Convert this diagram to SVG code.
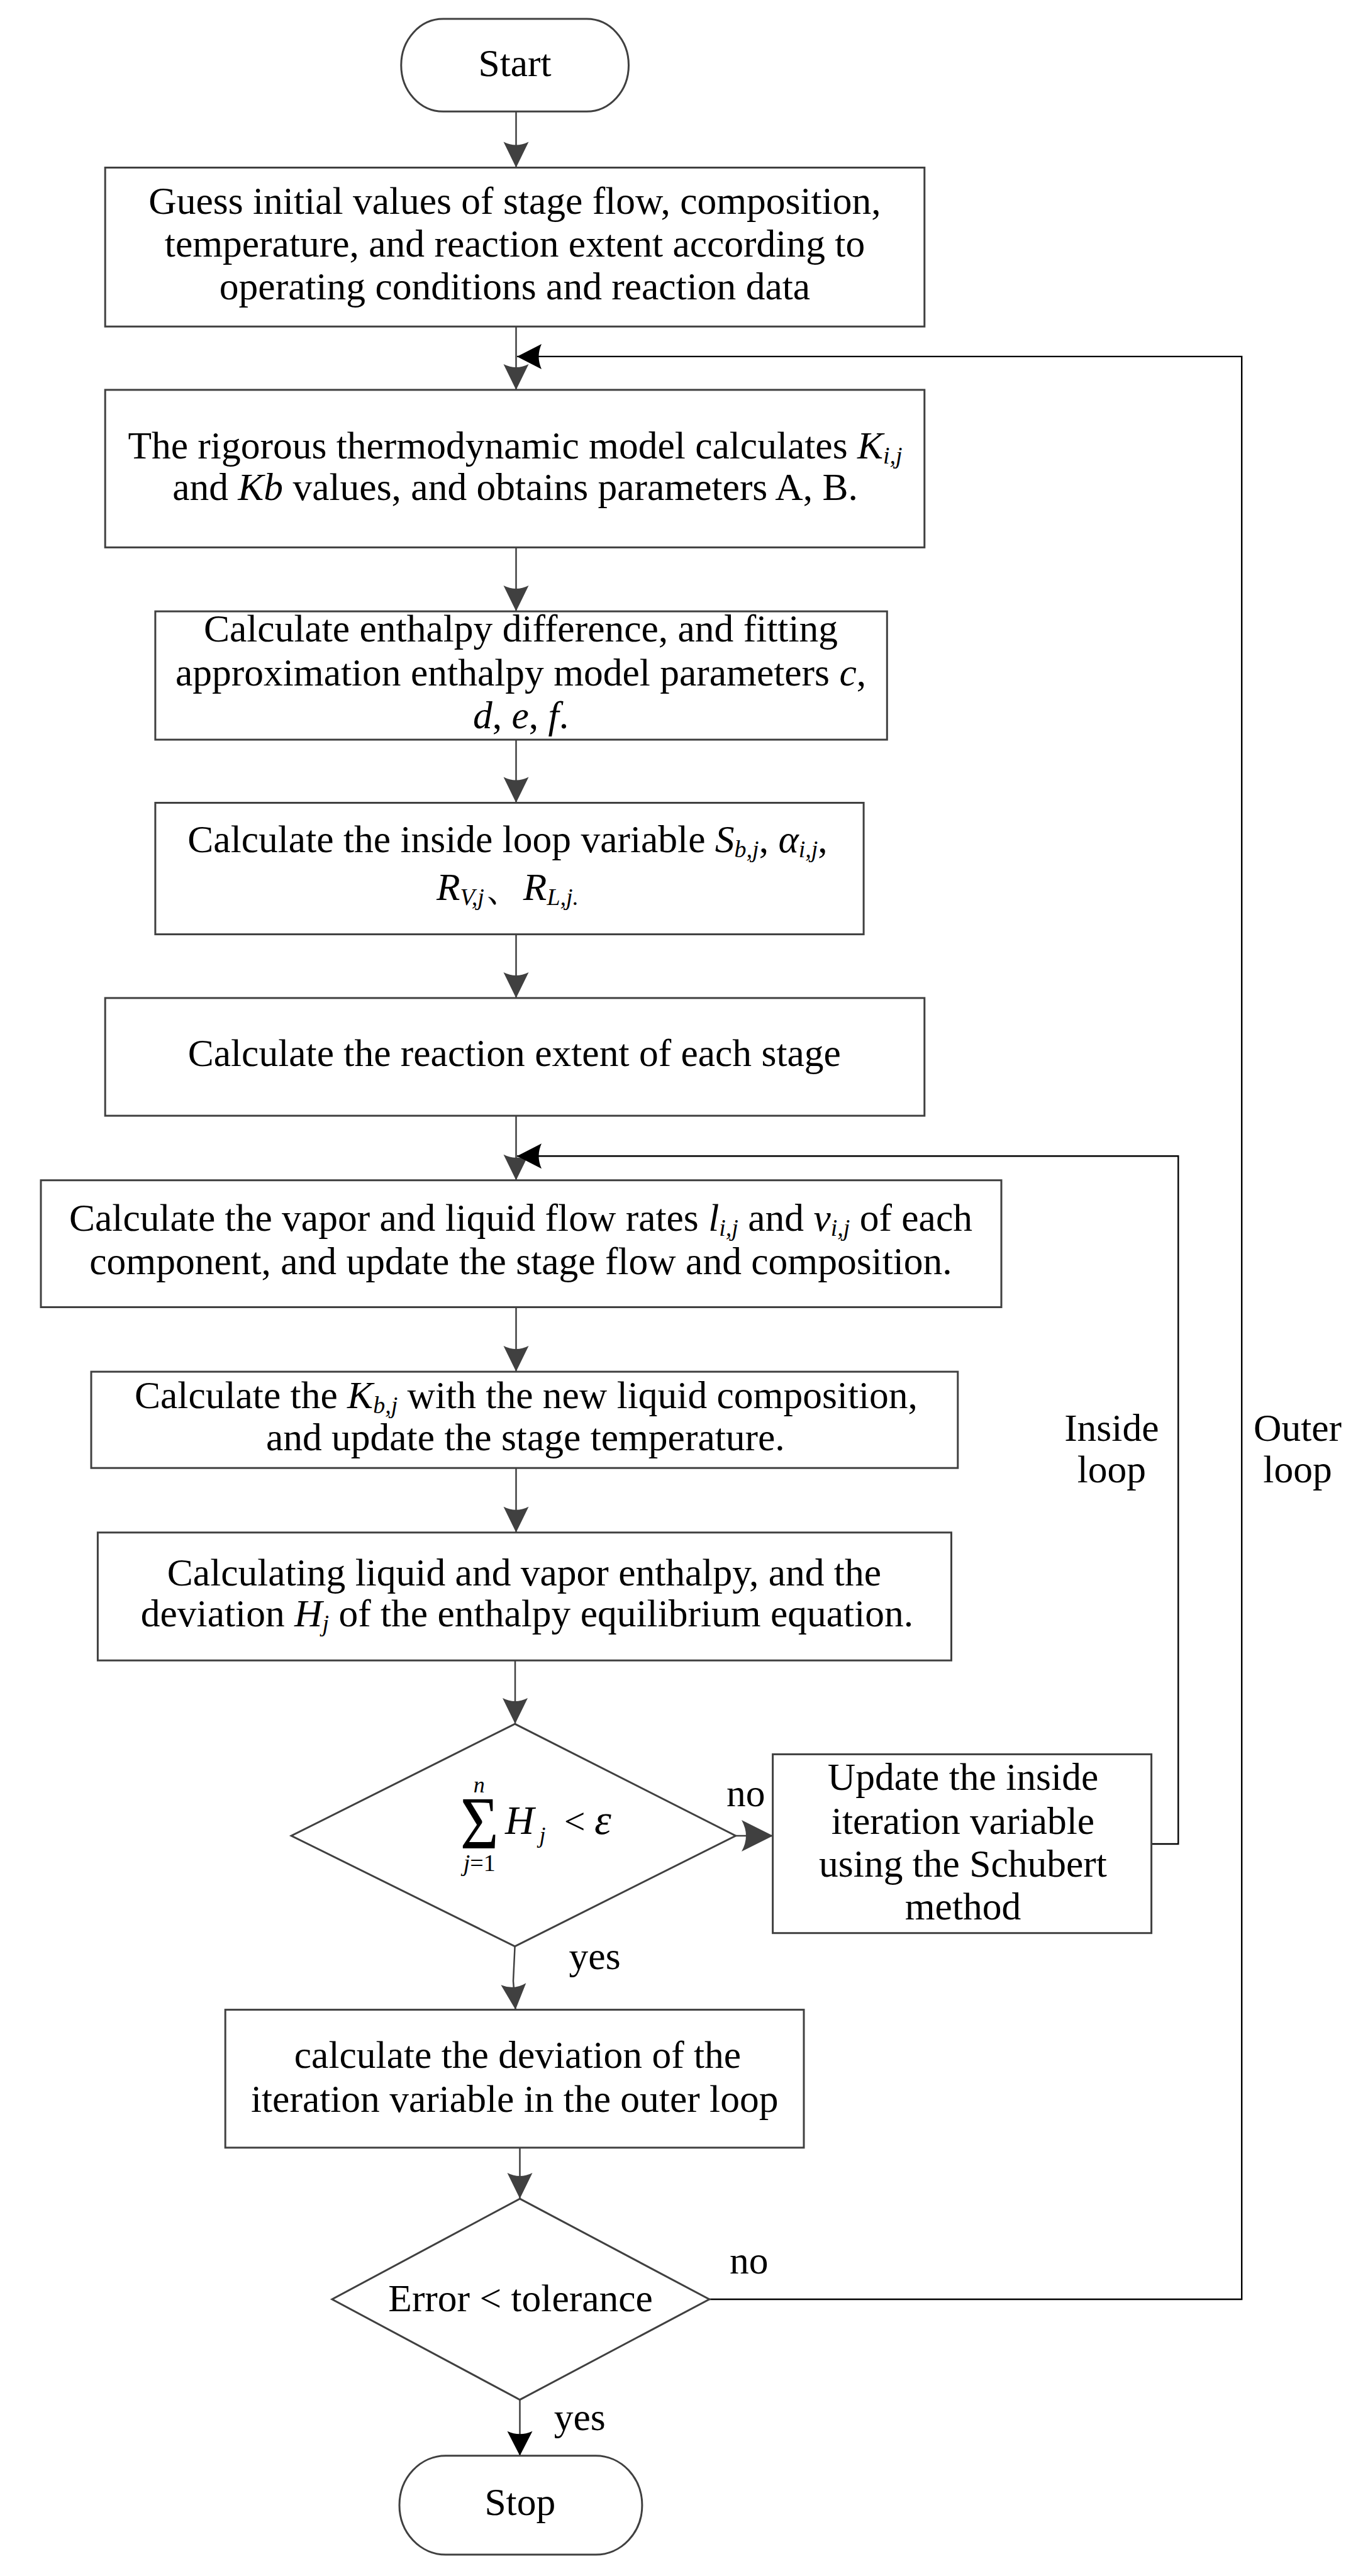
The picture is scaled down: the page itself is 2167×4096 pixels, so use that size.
<svg xmlns="http://www.w3.org/2000/svg" width="2167" height="4096" viewBox="0 0 2167 4096">
<defs>
<style>
.box{fill:#fff;stroke:#404040;stroke-width:3}
.con{fill:none;stroke:#404040;stroke-width:2.5}
.loop{fill:none;stroke:#000;stroke-width:2.4}
text{font-family:"Liberation Serif","Times New Roman",serif;font-size:61.5px;fill:#000}
.c{text-anchor:middle}
.i{font-style:italic}
.s{font-size:38px;font-style:italic}
</style>
<marker id="arr" viewBox="-43 -22 44 44" refX="0" refY="0" markerWidth="44" markerHeight="44" markerUnits="userSpaceOnUse" orient="auto"><path d="M0,0 L-41,-20 Q-31,0 -41,20 Z" fill="#404040"/></marker>
<marker id="arrK" viewBox="-43 -22 44 44" refX="0" refY="0" markerWidth="44" markerHeight="44" markerUnits="userSpaceOnUse" orient="auto"><path d="M0,0 L-39,-20 Q-30,0 -39,20 Z" fill="#000"/></marker>
<marker id="arrB" viewBox="-52 -27 53 54" refX="0" refY="0" markerWidth="53" markerHeight="54" markerUnits="userSpaceOnUse" orient="auto"><path d="M0,0 L-50,-25 Q-36,0 -50,25 Z" fill="#404040"/></marker>
</defs>
<rect width="2167" height="4096" fill="#fff"/>

<g id="connectors">
<path class="con" d="M820.5,177.2 V266.5" marker-end="url(#arr)"/>
<path class="con" d="M820.5,519.2 V619.9" marker-end="url(#arr)"/>
<path class="con" d="M820.5,870.4 V972.1" marker-end="url(#arr)"/>
<path class="con" d="M820.5,1176.1 V1276.5" marker-end="url(#arr)"/>
<path class="con" d="M820.5,1485.6 V1586.9" marker-end="url(#arr)"/>
<path class="con" d="M820.5,1774.1 V1876.7" marker-end="url(#arr)"/>
<path class="con" d="M820.5,2078.5 V2181.1" marker-end="url(#arr)"/>
<path class="con" d="M820.5,2334.2 V2436.8" marker-end="url(#arr)"/>
<path class="con" d="M819,2640.2 V2741.1" marker-end="url(#arr)"/>
<path class="con" d="M818.6,3094.8 L816,3150 L819.6,3195.6" marker-end="url(#arr)"/>
<path class="con" d="M826.5,3414.9 V3496.1" marker-end="url(#arr)"/>
<path class="con" d="M826.5,3815.7 V3904.8" marker-end="url(#arrK)"/>
<path class="con" d="M1169.6,2919 H1229" marker-end="url(#arrB)"/>
<path class="loop" d="M1827.6,2932 H1873.3 V1838.3 H822" marker-end="url(#arrK)"/>
<path class="loop" d="M1096,3656 H1974.2 V566.9 H822" marker-end="url(#arrK)"/>
<text x="1155" y="2872">no</text>
<text x="904.6" y="3131">yes</text>
<text x="1160" y="3614.8">no</text>
<text x="880.7" y="3863.7">yes</text>
<text class="c" x="1767.3" y="2290.5">Inside</text>
<text class="c" x="1767.3" y="2357.2">loop</text>
<text class="c" x="2063" y="2290.5">Outer</text>
<text class="c" x="2063" y="2357.2">loop</text>
</g>

<g id="start">
<rect class="box" x="637.8" y="30.1" width="361.7" height="147.2" rx="66.7" ry="73.6"/>
<text class="c" x="818.5" y="121">Start</text>
</g>

<g id="guess">
<rect class="box" x="167.2" y="266.5" width="1302.6" height="252.7"/>
<text class="c" x="818.5" y="340">Guess initial values of stage flow, composition,</text>
<text class="c" x="818.5" y="408">temperature, and reaction extent according to</text>
<text class="c" x="818.5" y="476">operating conditions and reaction data</text>
</g>

<g id="thermo">
<rect class="box" x="167.2" y="619.9" width="1302.6" height="250.5"/>
<text class="c" x="819" y="728.5">The rigorous thermodynamic model calculates <tspan class="i">K</tspan><tspan class="s" dy="8">i,j</tspan></text>
<text class="c" x="819" y="795.2">and <tspan class="i">Kb</tspan> values, and obtains parameters A, B.</text>
</g>

<g id="enthalpy">
<rect class="box" x="246.9" y="972.1" width="1163.4" height="204"/>
<text class="c" x="828" y="1020">Calculate enthalpy difference, and fitting</text>
<text class="c" x="828" y="1090">approximation enthalpy model parameters <tspan class="i">c</tspan>,</text>
<text class="c" x="828" y="1158"><tspan class="i">d</tspan>, <tspan class="i">e</tspan>, <tspan class="i">f</tspan>.</text>
</g>

<g id="inside-var">
<rect class="box" x="246.9" y="1276.5" width="1126.2" height="209.1"/>
<text class="c" x="807" y="1355.2">Calculate the inside loop variable <tspan class="i">S</tspan><tspan class="s" dy="8">b,j</tspan><tspan dy="-8">, </tspan><tspan class="i">α</tspan><tspan class="s" dy="8">i,j</tspan><tspan dy="-8">,</tspan></text>
<text class="c" x="807" y="1431.3"><tspan class="i">R</tspan><tspan class="s" dy="8">V,j</tspan><tspan dy="-8">、</tspan><tspan class="i">R</tspan><tspan class="s" dy="8">L,j.</tspan></text>
</g>

<g id="reaction">
<rect class="box" x="167.2" y="1586.9" width="1302.6" height="187.2"/>
<text class="c" x="817.8" y="1694.6">Calculate the reaction extent of each stage</text>
</g>

<g id="flowrates">
<rect class="box" x="65" y="1876.7" width="1527" height="201.8"/>
<text class="c" x="828" y="1957.1">Calculate the vapor and liquid flow rates <tspan class="i">l</tspan><tspan class="s" dy="8">i,j</tspan><tspan dy="-8"> and </tspan><tspan class="i">v</tspan><tspan class="s" dy="8">i,j</tspan><tspan dy="-8"> of each</tspan></text>
<text class="c" x="828" y="2025.5">component, and update the stage flow and composition.</text>
</g>

<g id="kb">
<rect class="box" x="145" y="2181.1" width="1377.8" height="153.1"/>
<text class="c" x="836.5" y="2239.2">Calculate the <tspan class="i">K</tspan><tspan class="s" dy="8">b,j</tspan><tspan dy="-8"> with the new liquid composition,</tspan></text>
<text class="c" x="835.3" y="2305.9">and update the stage temperature.</text>
</g>

<g id="enthalpy-dev">
<rect class="box" x="155.4" y="2436.8" width="1357.1" height="203.4"/>
<text class="c" x="833.4" y="2520.5">Calculating liquid and vapor enthalpy, and the</text>
<text class="c" x="838" y="2586.4">deviation <tspan class="i">H</tspan><tspan class="s" dy="8">j</tspan><tspan dy="-8"> of the enthalpy equilibrium equation.</tspan></text>
</g>

<g id="decision-inner">
<polygon class="box" points="818.6,2741.1 1169.6,2919 818.6,3094.8 463.2,2919"/>
<text class="c" transform="translate(762.2,2938.6) scale(0.88,1)" x="0" y="0" style="font-size:119px">Σ</text>
<text class="c i" x="761.8" y="2849.7" style="font-size:36px">n</text>
<text class="c" x="762.2" y="2975.4" style="font-size:38px"><tspan class="i">j</tspan>=1</text>
<text class="i" x="803" y="2915.6" style="font-size:64px">H</text>
<text class="i" x="857.6" y="2930" style="font-size:36px">j</text>
<text class="c" x="913.6" y="2915.6" style="font-size:60px">&lt;</text>
<text class="i" x="945" y="2915.6" style="font-size:68px">ε</text>
</g>

<g id="schubert">
<rect class="box" x="1228.6" y="2789.4" width="602" height="284.3"/>
<text class="c" x="1531" y="2846.3">Update the inside</text>
<text class="c" x="1531" y="2915.6">iteration variable</text>
<text class="c" x="1531" y="2984">using the Schubert</text>
<text class="c" x="1531" y="3052.4">method</text>
</g>

<g id="outer-dev">
<rect class="box" x="358.2" y="3195.6" width="919.8" height="219.3"/>
<text class="c" x="823" y="3287.8">calculate the deviation of the</text>
<text class="c" x="818.2" y="3357.6">iteration variable in the outer loop</text>
</g>

<g id="decision-outer">
<polygon class="box" points="826.5,3496.1 1127.7,3656 826.5,3815.7 528,3656"/>
<text class="c" x="827.6" y="3674.8">Error &lt; tolerance</text>
</g>

<g id="stop">
<rect class="box" x="635" y="3904.8" width="385.9" height="157.3" rx="73.5" ry="78.6"/>
<text class="c" x="826.8" y="3998.8">Stop</text>
</g>
</svg>
